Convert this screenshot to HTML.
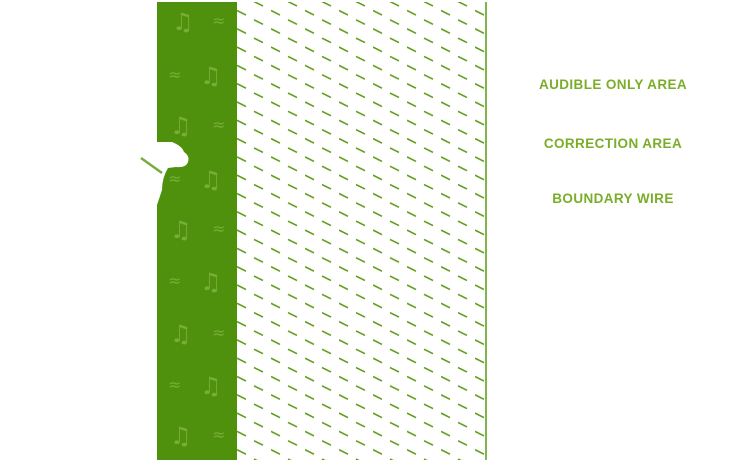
<!DOCTYPE html>
<html><head><style>
body{margin:0;width:738px;height:462px;background:#fff;overflow:hidden;position:relative;font-family:"Liberation Sans",sans-serif}
.t{position:absolute;left:520px;width:186px;text-align:center;color:#7aad2a;font-weight:bold;font-size:13.5px;letter-spacing:0.4px}
</style></head><body>
<svg width="738" height="462" style="position:absolute;left:0;top:0">
<defs>
<pattern id="d" x="237" y="0" width="34" height="18.3" patternUnits="userSpaceOnUse">
<line x1="0" y1="10.5" x2="9" y2="15" stroke="#5a9a12" stroke-width="1.5"/>
<line x1="17" y1="1.5" x2="26" y2="6" stroke="#5a9a12" stroke-width="1.5"/>
</pattern>
</defs>
<rect x="237" y="2" width="249" height="458" fill="url(#d)"/>
<rect x="157" y="2" width="80" height="458" fill="#4f910c"/>
<line x1="486" y1="2" x2="486" y2="460" stroke="#5a9a12" stroke-width="1.5"/>
<g fill="#78ad3a" font-size="24" font-family="DejaVu Sans,sans-serif">
<text x="172" y="30">♫</text><text x="212" y="26" font-size="16">≈</text>
<text x="168" y="80" font-size="16">≈</text><text x="200" y="84">♫</text>
<text x="170" y="134">♫</text><text x="212" y="130" font-size="16">≈</text>
<text x="168" y="184" font-size="16">≈</text><text x="200" y="188">♫</text>
<text x="170" y="238">♫</text><text x="212" y="234" font-size="16">≈</text>
<text x="168" y="286" font-size="16">≈</text><text x="200" y="290">♫</text>
<text x="170" y="342">♫</text><text x="212" y="338" font-size="16">≈</text>
<text x="168" y="390" font-size="16">≈</text><text x="200" y="394">♫</text>
<text x="170" y="444">♫</text><text x="212" y="440" font-size="16">≈</text>
</g>
<path d="M157 142 L172 142 Q182 146 184 152 Q190 156 188 162 Q186 168 176 167 L168 168 Q162 178 162 190 L157 205 Z" fill="#fff"/>
<line x1="141" y1="158" x2="162" y2="173" stroke="#78ad3a" stroke-width="2.5"/>
</svg>
<div class="t" style="top:77px">AUDIBLE ONLY AREA</div>
<div class="t" style="top:136px">CORRECTION AREA</div>
<div class="t" style="top:191px">BOUNDARY WIRE</div>
</body></html>
